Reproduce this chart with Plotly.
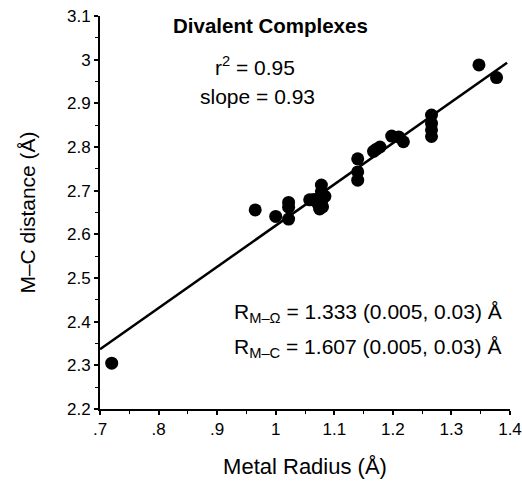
import plotly.graph_objects as go

# Data
metal_radius = [0.72, 0.965, 1.00, 1.022, 1.022, 1.022, 1.058, 1.065, 1.072, 1.078,
                1.078, 1.078, 1.084, 1.08, 1.075, 1.14, 1.14, 1.14, 1.167, 1.172,
                1.178, 1.198, 1.21, 1.218, 1.266, 1.266, 1.266, 1.266, 1.347, 1.377]
mc_distance = [2.305, 2.656, 2.641, 2.673, 2.662, 2.635, 2.679, 2.68, 2.67, 2.713,
               2.698, 2.675, 2.687, 2.663, 2.658, 2.773, 2.743, 2.724, 2.79, 2.795,
               2.8, 2.825, 2.823, 2.812, 2.873, 2.854, 2.839, 2.824, 2.988, 2.959]

fit_slope = 0.944
fit_intercept = 1.676
fit_range = [0.70, 1.395]

x_ticks = [0.7, 0.8, 0.9, 1.0, 1.1, 1.2, 1.3, 1.4]
x_ticklabels = [".7", ".8", ".9", "1", "1.1", "1.2", "1.3", "1.4"]
y_ticks = [2.2, 2.3, 2.4, 2.5, 2.6, 2.7, 2.8, 2.9, 3.0, 3.1]
y_ticklabels = ["2.2", "2.3", "2.4", "2.5", "2.6", "2.7", "2.8", "2.9", "3", "3.1"]

font = "Liberation Sans, Arial, Helvetica, sans-serif"

fit_y = [fit_intercept + fit_slope * v for v in fit_range]

fig = go.Figure()
fig.add_trace(go.Scatter(x=fit_range, y=fit_y, mode="lines",
                         line=dict(color="black", width=2.5), showlegend=False,
                         cliponaxis=False))
fig.add_trace(go.Scatter(x=metal_radius, y=mc_distance, mode="markers",
                         marker=dict(color="black", size=13, line=dict(width=0)),
                         showlegend=False))

axis_common = dict(showgrid=False, zeroline=False, showline=True, linecolor="black",
                   linewidth=2, ticks="outside", ticklen=4, tickwidth=1.5, tickcolor="black",
                   minor=dict(dtick=0.05, ticks="outside", ticklen=3, tickcolor="black", tickwidth=1),
                   tickfont=dict(size=17), automargin=False)

fig.update_layout(
    width=522, height=484,
    margin=dict(l=100, r=12, t=16, b=75),
    paper_bgcolor="white", plot_bgcolor="white",
    font=dict(family=font, color="black", size=17),
    xaxis=dict(range=[0.7, 1.4], tickvals=x_ticks, ticktext=x_ticklabels,
               title=dict(text="Metal Radius (Å)", font=dict(size=22), standoff=20),
               **axis_common),
    yaxis=dict(range=[2.2, 3.1], tickvals=y_ticks, ticktext=y_ticklabels,
               title=dict(text="M–C distance (Å)", font=dict(size=21), standoff=26),
               **axis_common),
)

anns = [
    dict(x=0.417, y=0.977, text="<b>Divalent Complexes</b>", font=dict(size=20.5), xanchor="center"),
    dict(x=0.378, y=0.873, text="r<sup>2</sup> = 0.95", font=dict(size=21), xanchor="center"),
    dict(x=0.383, y=0.796, text="slope = 0.93", font=dict(size=21), xanchor="center"),
    dict(x=0.322, y=0.244, text="R<sub>M–Ω</sub> = 1.333 (0.005, 0.03) Å", font=dict(size=21), xanchor="left"),
    dict(x=0.322, y=0.155, text="R<sub>M–C</sub> = 1.607 (0.005, 0.03) Å", font=dict(size=21), xanchor="left"),
]
for a in anns:
    fig.add_annotation(xref="paper", yref="paper", showarrow=False, yanchor="middle", **a)

fig.write_html("out.html", config={"displayModeBar": False},
               post_script="document.body.style.margin='0';")
